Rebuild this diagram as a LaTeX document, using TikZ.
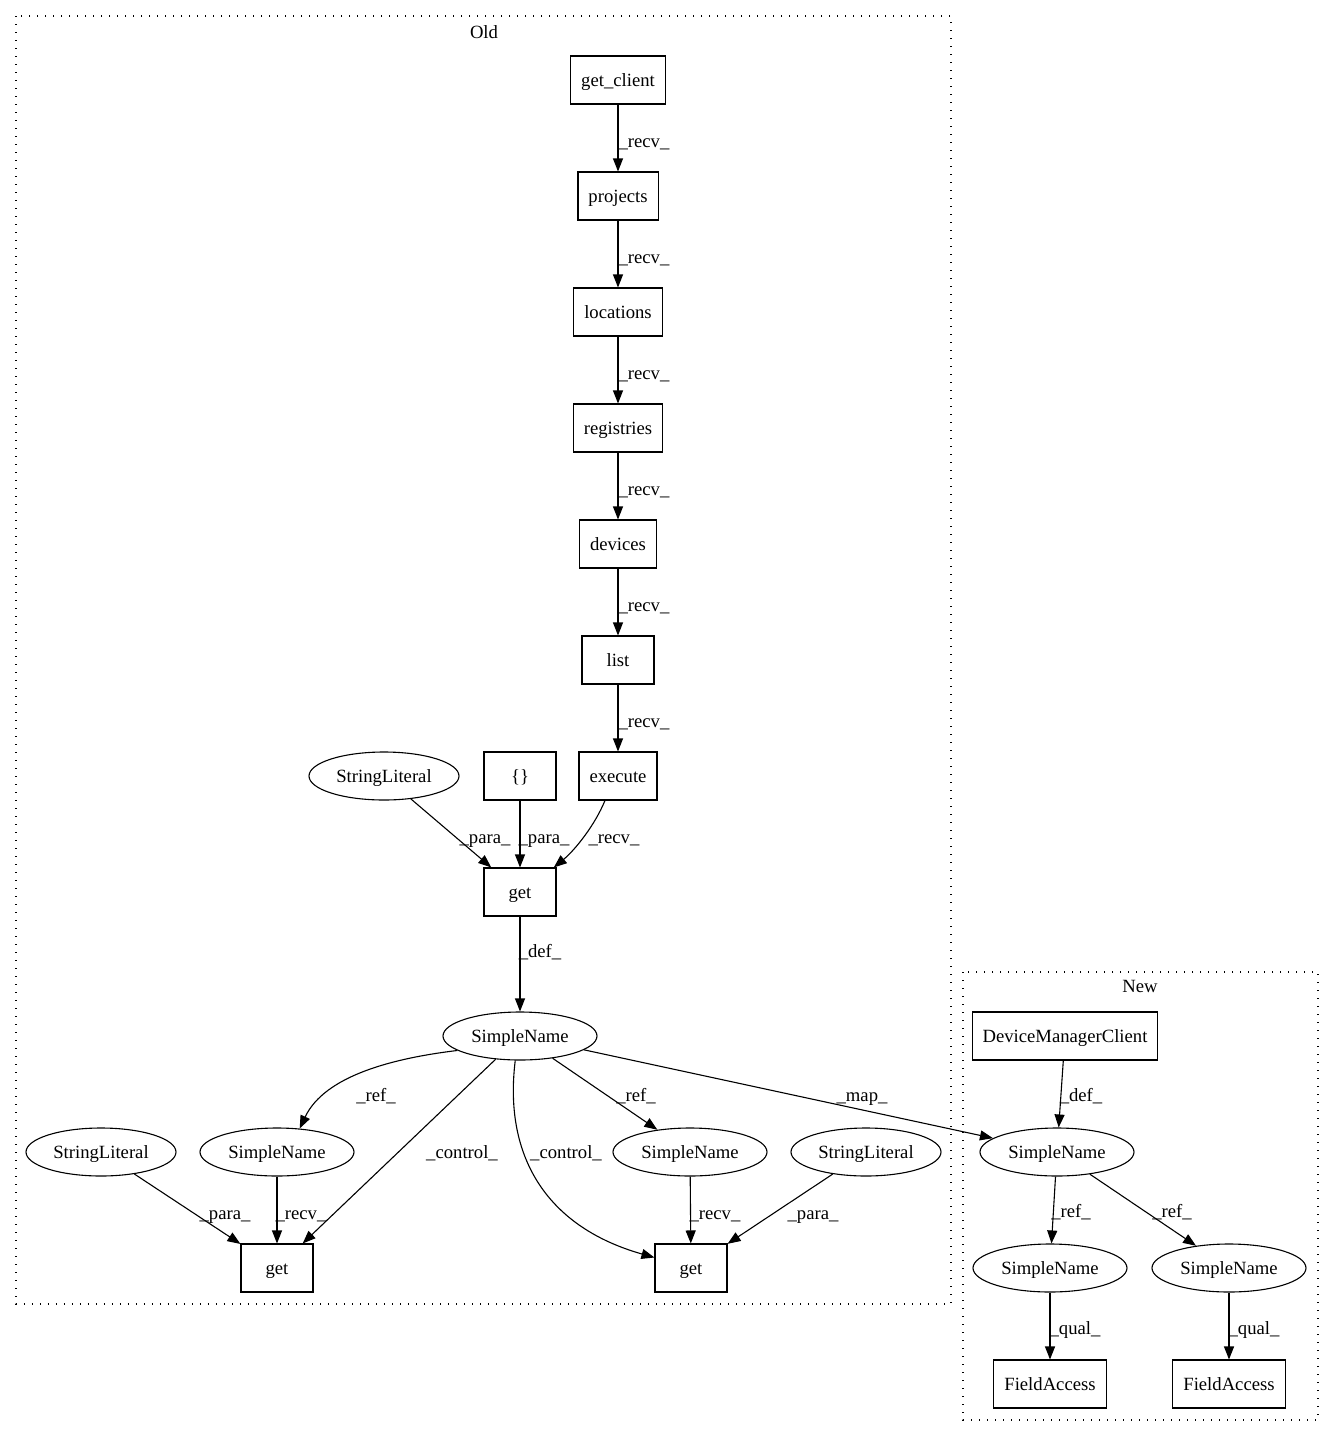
\documentclass[tikz,border=0pt]{standalone}
\usepackage{fontspec}
\setmainfont{Liberation Serif}
\usetikzlibrary{shapes.geometric,arrows.meta}
\begin{document}
\begin{tikzpicture}[x=1pt,y=-1pt,
  every node/.style={font=\fontsize{18.67}{22}\selectfont},
  box/.style={draw,rectangle,line width=1.1pt,minimum width=72pt,minimum height=48pt,inner xsep=10.5pt,inner ysep=0pt,text height=16pt,text depth=4pt},
  ell/.style={draw,ellipse,line width=1.1pt,minimum height=48pt,inner sep=0pt,text height=16pt,text depth=4pt},
  sn/.style={ell,minimum width=154pt},
  sl/.style={ell,minimum width=150pt},
  lbl/.style={anchor=base,inner sep=0pt},
  edge/.style={line width=1.1pt,-{Triangle[length=13pt,width=10pt]}},
  cluster/.style={line width=1.3pt,dash pattern=on 1.3pt off 6.7pt}
]
\useasboundingbox (0,0) rectangle (1333,1436);
\fill[white] (0,0) rectangle (1333,1436);
% clusters
\draw[cluster] (16,16) rectangle (951,1304);
\node[lbl] (oldlbl) at (484,38) {Old};
\draw[cluster] (963,972) rectangle (1318,1420);
\node[lbl] (newlbl) at (1140,992) {New};
% Old nodes
\node[box] (gc) at (618,80) {get\_client};
\node[box] (proj) at (618,196) {projects};
\node[box] (loc) at (618,312) {locations};
\node[box] (reg) at (618,428) {registries};
\node[box] (dev) at (618,544) {devices};
\node[box] (lst) at (618,660) {list};
\node[box] (exe) at (618,776) {execute};
\node[box] (brc) at (520,776) {\{\}};
\node[sl] (slt) at (384,776) {StringLiteral};
\node[box] (get) at (520,892) {get};
\node[sn] (snm) at (520,1036) {SimpleName};
\node[sl] (sll) at (101,1152) {StringLiteral};
\node[sn] (snl) at (277,1152) {SimpleName};
\node[sn] (snr) at (690,1152) {SimpleName};
\node[sl] (slr) at (866,1152) {StringLiteral};
\node[box] (getl) at (277,1268) {get};
\node[box] (getr) at (691,1268) {get};
% New nodes
\node[box] (dmc) at (1065,1036) {DeviceManagerClient};
\node[sn] (snn) at (1057,1152) {SimpleName};
\node[sn] (snnl) at (1050,1268) {SimpleName};
\node[sn] (snnr) at (1229,1268) {SimpleName};
\node[box] (fal) at (1050,1384) {FieldAccess};
\node[box] (far) at (1229,1384) {FieldAccess};
% chain edges
\draw[edge] (gc) -- (proj);
\draw[edge] (proj) -- (loc);
\draw[edge] (loc) -- (reg);
\draw[edge] (reg) -- (dev);
\draw[edge] (dev) -- (lst);
\draw[edge] (lst) -- (exe);
\node[lbl] at (644,147) {\_recv\_};
\node[lbl] at (644,263) {\_recv\_};
\node[lbl] at (644,379) {\_recv\_};
\node[lbl] at (644,495) {\_recv\_};
\node[lbl] at (644,611) {\_recv\_};
\node[lbl] at (644,727) {\_recv\_};
% into get
\draw[edge] (slt) -- (get);
\draw[edge] (brc) -- (get);
\draw[edge] (exe.242) .. controls (595,825) and (575,850) .. (get.36);
\node[lbl] at (485,843) {\_para\_};
\node[lbl] at (544,843) {\_para\_};
\node[lbl] at (614,843) {\_recv\_};
\draw[edge] (get) -- (snm);
\node[lbl] at (540,957) {\_def\_};
% from main SimpleName
\draw[edge] (snm.193) .. controls (395,1058) and (325,1075) .. (snl.46);
\node[lbl] at (376,1101) {\_ref\_};
\draw[edge] (snm) -- (getl);
\node[lbl] at (462,1158) {\_control\_};
\draw[edge] (snm.259) .. controls (503,1160) and (550,1228) .. (getr.164);
\node[lbl] at (566,1158) {\_control\_};
\draw[edge] (snm) -- (snr);
\node[lbl] at (636,1101) {\_ref\_};
\draw[edge] (snm) -- (snn);
\node[lbl] at (862,1101) {\_map\_};
% bottom old
\draw[edge] (sll) -- (getl);
\node[lbl] at (225,1219) {\_para\_};
\draw[edge] (snl) -- (getl);
\node[lbl] at (301,1219) {\_recv\_};
\draw[edge] (snr) -- (getr);
\node[lbl] at (715,1219) {\_recv\_};
\draw[edge] (slr) -- (getr);
\node[lbl] at (813,1219) {\_para\_};
% new edges
\draw[edge] (dmc) -- (snn);
\node[lbl] at (1081,1101) {\_def\_};
\draw[edge] (snn) -- (snnl);
\node[lbl] at (1071,1217) {\_ref\_};
\draw[edge] (snn) -- (snnr);
\node[lbl] at (1172,1217) {\_ref\_};
\draw[edge] (snnl) -- (fal);
\node[lbl] at (1075,1334) {\_qual\_};
\draw[edge] (snnr) -- (far);
\node[lbl] at (1254,1334) {\_qual\_};
\end{tikzpicture}
\end{document}
